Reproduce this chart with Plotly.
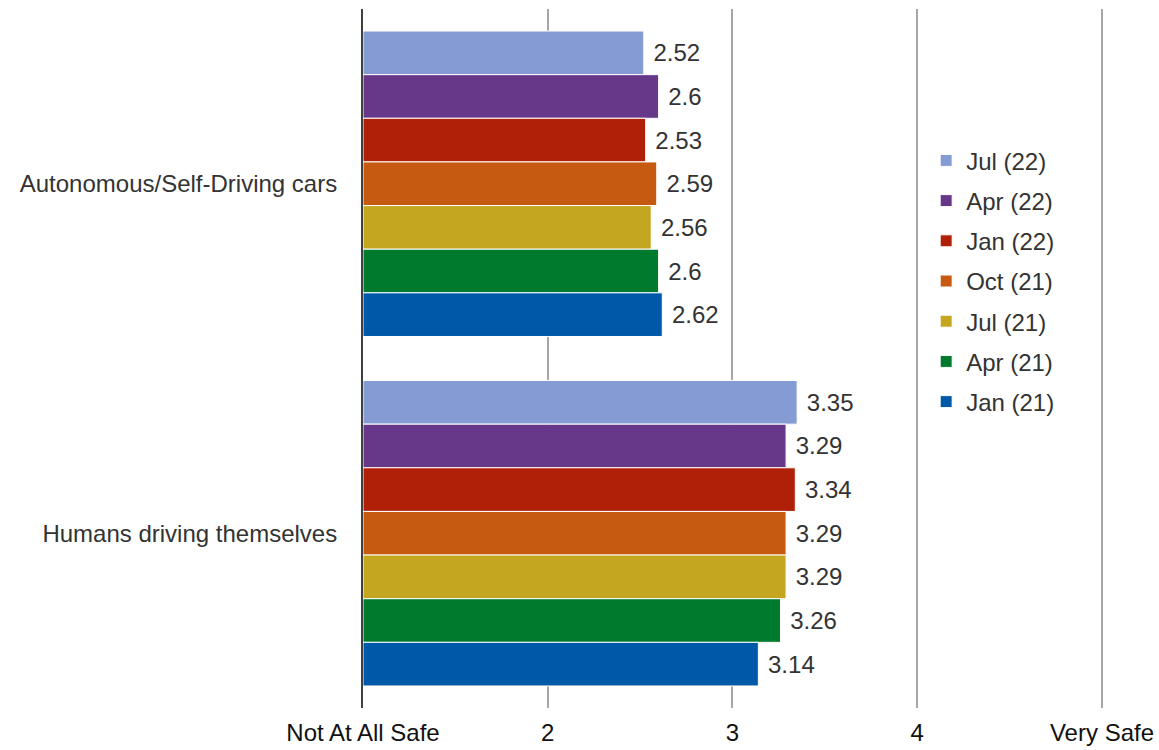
import plotly.graph_objects as go

categories = ["Autonomous/Self-Driving cars", "Humans driving themselves"]
series_names = ["Jul (22)", "Apr (22)", "Jan (22)", "Oct (21)", "Jul (21)", "Apr (21)", "Jan (21)"]
jul22 = [2.52, 3.35]
apr22 = [2.60, 3.29]
jan22 = [2.53, 3.34]
oct21 = [2.59, 3.29]
jul21 = [2.56, 3.29]
apr21 = [2.60, 3.26]
jan21 = [2.62, 3.14]
series_values = [jul22, apr22, jan22, oct21, jul21, apr21, jan21]
colors = ["#859bd4", "#673889", "#b01f08", "#c55a10", "#c4a620", "#007a2c", "#0058a8"]

tick_vals = [1, 2, 3, 4, 5]
tick_text = ["Not At All Safe", "2", "3", "4", "Very Safe"]

FONT = "Liberation Sans, Arial, sans-serif"

fig = go.Figure()
for name, vals, col in zip(series_names, series_values, colors):
    fig.add_trace(go.Bar(
        y=categories, x=[v - 1 for v in vals], base=1, orientation="h",
        name=name, legendgroup=name,
        marker=dict(color=col, line=dict(color="white", width=1)),
        text=["\u00a0" + f"{v:g}" for v in vals],
        textposition="outside", cliponaxis=False,
        textfont=dict(family=FONT, size=24, color="#333333"),
        hovertemplate="%{y}: %{text}<extra>" + name + "</extra>",
    ))

fig.update_layout(
    width=1159, height=750,
    barmode="group", bargap=0.126, bargroupgap=0,
    plot_bgcolor="white", paper_bgcolor="white",
    margin=dict(l=363, r=55, t=9, b=42, autoexpand=False),
    font=dict(family=FONT, size=24, color="#333333"),
    showlegend=True,
    legend=dict(
        x=0.760, y=0.815, xanchor="left", yanchor="top",
        traceorder="grouped", tracegroupgap=6,
        font=dict(family=FONT, size=24, color="#333333"),
        bgcolor="rgba(0,0,0,0)",
    ),
    xaxis=dict(
        range=[1, 5.011], tickvals=tick_vals, ticktext=tick_text,
        showgrid=True, gridcolor="#a6a6a6", gridwidth=2,
        zeroline=False, showline=False, automargin=False,
        tickfont=dict(family=FONT, size=24, color="#111111"),
        ticklabelstandoff=8,
        fixedrange=True,
    ),
    yaxis=dict(
        autorange="reversed", showgrid=False, zeroline=False,
        showline=True, linecolor="#404040", linewidth=2, automargin=False,
        tickfont=dict(family=FONT, size=24, color="#333333"),
        ticklabelstandoff=19,
    ),
)

fig.write_html(
    "out.html",
    config={"displayModeBar": False},
    post_script="document.body.style.margin='0';document.body.style.overflow='hidden';",
)
